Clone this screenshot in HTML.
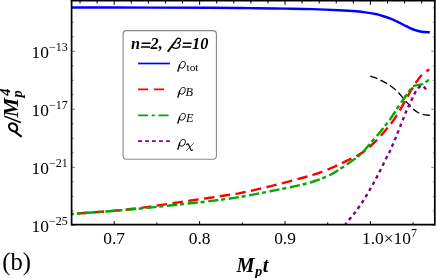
<!DOCTYPE html>
<html><head><meta charset="utf-8"><title>plot</title>
<style>
html,body{margin:0;padding:0;background:#fff;}
body{width:437px;height:278px;overflow:hidden;font-family:"Liberation Serif",serif;}
svg{display:block;will-change:transform;}
text{font-family:"Liberation Serif",serif;fill:#000;}
</style></head><body>
<svg width="437" height="278" viewBox="0 0 437 278">
<rect width="437" height="278" fill="#fff"/>
<clipPath id="cp"><rect x="71.6" y="0.8" width="363.2" height="223.8"/></clipPath>
<g fill="none" stroke-linecap="butt" stroke-linejoin="round" clip-path="url(#cp)">
<path d="M370.30,76.10 C371.38,76.47 375.15,77.65 376.80,78.30 C378.45,78.95 378.48,79.12 380.20,80.00 C381.92,80.88 385.35,82.62 387.10,83.60 C388.85,84.58 389.22,84.80 390.70,85.90 C392.18,87.00 394.62,88.98 396.00,90.20 C397.38,91.42 396.90,90.85 399.00,93.20 C401.10,95.55 405.63,101.20 408.60,104.30 C411.57,107.40 414.28,110.07 416.80,111.80 C419.32,113.53 421.52,114.12 423.70,114.70 C425.88,115.28 428.87,115.20 429.90,115.30" stroke="#000" stroke-width="1.3" stroke-dasharray="7.4 3.6"/>
<path d="M71.60,214.00 C79.95,213.35 108.63,211.33 121.70,210.10 C134.77,208.87 140.28,207.93 150.00,206.60 C159.72,205.27 170.00,203.58 180.00,202.10 C190.00,200.62 200.00,199.20 210.00,197.70 C220.00,196.20 230.00,195.00 240.00,193.10 C250.00,191.20 260.00,188.73 270.00,186.30 C280.00,183.87 292.50,180.52 300.00,178.50 C307.50,176.48 310.00,175.87 315.00,174.20 C320.00,172.53 325.00,170.58 330.00,168.50 C335.00,166.42 340.00,164.10 345.00,161.70 C350.00,159.30 355.27,157.15 360.00,154.10 C364.73,151.05 369.35,147.13 373.40,143.40 C377.45,139.67 381.07,135.40 384.30,131.70 C387.53,128.00 390.12,124.92 392.80,121.20 C395.48,117.48 398.00,113.43 400.40,109.40 C402.80,105.37 405.03,100.78 407.20,97.00 C409.37,93.22 411.80,89.30 413.40,86.70 C415.00,84.10 415.53,83.20 416.80,81.40 C418.07,79.60 418.93,77.92 421.00,75.90 C423.07,73.88 427.83,70.40 429.20,69.30" stroke="#ff0000" stroke-width="2.4" stroke-dasharray="10.5 5.4" stroke-dashoffset="9.8"/>
<path d="M71.60,214.00 C79.95,213.37 108.63,211.27 121.70,210.20 C134.77,209.13 140.28,208.57 150.00,207.60 C159.72,206.63 170.00,205.48 180.00,204.40 C190.00,203.32 200.00,202.33 210.00,201.10 C220.00,199.87 230.00,198.63 240.00,197.00 C250.00,195.37 260.00,193.28 270.00,191.30 C280.00,189.32 292.50,186.82 300.00,185.10 C307.50,183.38 310.00,182.68 315.00,181.00 C320.00,179.32 325.00,177.53 330.00,175.00 C335.00,172.47 340.00,169.17 345.00,165.80 C350.00,162.43 356.18,158.07 360.00,154.80 C363.82,151.53 364.98,149.47 367.90,146.20 C370.82,142.93 374.53,138.75 377.50,135.20 C380.47,131.65 383.62,127.50 385.70,124.90 C387.78,122.30 388.02,122.42 390.00,119.60 C391.98,116.78 395.18,111.65 397.60,108.00 C400.02,104.35 402.55,100.53 404.50,97.70 C406.45,94.87 407.88,92.97 409.30,91.00 C410.72,89.03 412.38,86.75 413.00,85.90 C414.55,85.62 419.65,85.25 422.30,84.20 C424.95,83.15 427.80,80.37 428.90,79.60" stroke="#00aa00" stroke-width="2.4" stroke-dasharray="10.3 2.7 4.1 3.6" stroke-dashoffset="7.7"/>
<path d="M345.40,224.00 C346.87,222.27 351.37,217.27 354.20,213.60 C357.03,209.93 359.67,206.20 362.40,202.00 C365.13,197.80 367.87,193.18 370.60,188.40 C373.33,183.62 376.07,178.57 378.80,173.30 C381.53,168.03 385.13,160.52 387.00,156.80 C388.87,153.08 388.62,154.03 390.00,151.00 C391.38,147.97 393.50,142.95 395.30,138.60 C397.10,134.25 398.93,129.53 400.80,124.90 C402.67,120.27 404.63,115.10 406.50,110.80 C408.37,106.50 410.62,102.03 412.00,99.10 C413.38,96.17 414.00,94.75 414.80,93.20 C415.60,91.65 416.00,90.85 416.80,89.80 C417.60,88.75 418.80,87.62 419.60,86.90 C420.40,86.18 420.97,85.62 421.60,85.50 C422.23,85.38 422.82,85.73 423.40,86.20 C423.98,86.67 424.63,87.77 425.10,88.30 C425.57,88.83 426.02,89.22 426.20,89.40" stroke="#800080" stroke-width="2.4" stroke-dasharray="3.5 3.6" stroke-dashoffset="1.7"/>
<path d="M71.60,7.50 C84.67,7.52 126.93,7.55 150.00,7.60 C173.07,7.65 195.00,7.72 210.00,7.80 C225.00,7.88 232.17,7.98 240.00,8.05 C247.83,8.12 249.50,8.11 257.00,8.20 C264.50,8.29 275.83,8.45 285.00,8.60 C294.17,8.75 303.00,8.83 312.00,9.10 C321.00,9.37 331.67,9.83 339.00,10.20 C346.33,10.57 351.33,10.90 356.00,11.30 C360.67,11.70 363.50,12.10 367.00,12.60 C370.50,13.10 374.83,13.87 377.00,14.30 C379.17,14.73 377.33,14.32 380.00,15.20 C382.67,16.08 388.65,17.78 393.00,19.60 C397.35,21.42 402.40,24.33 406.10,26.10 C409.80,27.87 412.60,29.27 415.20,30.20 C417.80,31.13 419.27,31.35 421.70,31.70 C424.13,32.05 428.45,32.20 429.80,32.30" stroke="#0000ff" stroke-width="2.4"/>
</g>
<g stroke="#000" stroke-width="1"><line x1="80.04" y1="0" x2="80.04" y2="3.50"/><line x1="97.12" y1="0" x2="97.12" y2="3.50"/><line x1="114.20" y1="0" x2="114.20" y2="4.90"/><line x1="131.28" y1="0" x2="131.28" y2="3.50"/><line x1="148.36" y1="0" x2="148.36" y2="3.50"/><line x1="165.44" y1="0" x2="165.44" y2="3.50"/><line x1="182.52" y1="0" x2="182.52" y2="3.50"/><line x1="199.60" y1="0" x2="199.60" y2="4.90"/><line x1="216.68" y1="0" x2="216.68" y2="3.50"/><line x1="233.76" y1="0" x2="233.76" y2="3.50"/><line x1="250.84" y1="0" x2="250.84" y2="3.50"/><line x1="267.92" y1="0" x2="267.92" y2="3.50"/><line x1="285.00" y1="0" x2="285.00" y2="4.90"/><line x1="302.08" y1="0" x2="302.08" y2="3.50"/><line x1="319.16" y1="0" x2="319.16" y2="3.50"/><line x1="336.24" y1="0" x2="336.24" y2="3.50"/><line x1="353.32" y1="0" x2="353.32" y2="3.50"/><line x1="370.40" y1="0" x2="370.40" y2="4.90"/><line x1="387.48" y1="0" x2="387.48" y2="3.50"/><line x1="404.56" y1="0" x2="404.56" y2="3.50"/><line x1="421.64" y1="0" x2="421.64" y2="3.50"/><line x1="114.20" y1="224.6" x2="114.20" y2="221.20"/><line x1="156.90" y1="224.6" x2="156.90" y2="222.40"/><line x1="199.60" y1="224.6" x2="199.60" y2="221.20"/><line x1="242.30" y1="224.6" x2="242.30" y2="222.40"/><line x1="285.00" y1="224.6" x2="285.00" y2="221.20"/><line x1="327.70" y1="224.6" x2="327.70" y2="222.40"/><line x1="370.40" y1="224.6" x2="370.40" y2="221.20"/><line x1="413.10" y1="224.6" x2="413.10" y2="222.40"/></g>
<g stroke="#333" stroke-width="0.6"><line x1="71.6" y1="225.30" x2="75.00" y2="225.30"/><line x1="434.8" y1="225.30" x2="431.40" y2="225.30"/><line x1="71.6" y1="210.80" x2="73.60" y2="210.80"/><line x1="434.8" y1="210.80" x2="432.80" y2="210.80"/><line x1="71.6" y1="196.30" x2="73.60" y2="196.30"/><line x1="434.8" y1="196.30" x2="432.80" y2="196.30"/><line x1="71.6" y1="181.80" x2="73.60" y2="181.80"/><line x1="434.8" y1="181.80" x2="432.80" y2="181.80"/><line x1="71.6" y1="167.30" x2="75.00" y2="167.30"/><line x1="434.8" y1="167.30" x2="431.40" y2="167.30"/><line x1="71.6" y1="152.80" x2="73.60" y2="152.80"/><line x1="434.8" y1="152.80" x2="432.80" y2="152.80"/><line x1="71.6" y1="138.30" x2="73.60" y2="138.30"/><line x1="434.8" y1="138.30" x2="432.80" y2="138.30"/><line x1="71.6" y1="123.80" x2="73.60" y2="123.80"/><line x1="434.8" y1="123.80" x2="432.80" y2="123.80"/><line x1="71.6" y1="109.30" x2="75.00" y2="109.30"/><line x1="434.8" y1="109.30" x2="431.40" y2="109.30"/><line x1="71.6" y1="94.80" x2="73.60" y2="94.80"/><line x1="434.8" y1="94.80" x2="432.80" y2="94.80"/><line x1="71.6" y1="80.30" x2="73.60" y2="80.30"/><line x1="434.8" y1="80.30" x2="432.80" y2="80.30"/><line x1="71.6" y1="65.80" x2="73.60" y2="65.80"/><line x1="434.8" y1="65.80" x2="432.80" y2="65.80"/><line x1="71.6" y1="51.30" x2="75.00" y2="51.30"/><line x1="434.8" y1="51.30" x2="431.40" y2="51.30"/><line x1="71.6" y1="36.80" x2="73.60" y2="36.80"/><line x1="434.8" y1="36.80" x2="432.80" y2="36.80"/><line x1="71.6" y1="22.30" x2="73.60" y2="22.30"/><line x1="434.8" y1="22.30" x2="432.80" y2="22.30"/><line x1="71.6" y1="7.80" x2="73.60" y2="7.80"/><line x1="434.8" y1="7.80" x2="432.80" y2="7.80"/></g>
<path d="M71.6,0 V224.6 H434.8 V0" fill="none" stroke="#000" stroke-width="1.7"/>
<line x1="70.75" y1="0.8" x2="435.65" y2="0.8" stroke="#000" stroke-width="1.6"/>
<text x="31.6" y="57.50" font-size="17.4">10<tspan dy="-6.8" font-size="12">−13</tspan></text><text x="31.6" y="115.50" font-size="17.4">10<tspan dy="-6.8" font-size="12">−17</tspan></text><text x="31.6" y="173.50" font-size="17.4">10<tspan dy="-6.8" font-size="12">−21</tspan></text><text x="31.6" y="231.50" font-size="17.4">10<tspan dy="-6.8" font-size="12">−25</tspan></text>
<text x="114.20" y="243.9" font-size="17.4" text-anchor="middle">0.7</text><text x="199.60" y="243.9" font-size="17.4" text-anchor="middle">0.8</text><text x="285.00" y="243.9" font-size="17.4" text-anchor="middle">0.9</text><text x="362" y="243.9" font-size="17.4">1.0×10<tspan dy="-6.8" font-size="12">7</tspan></text>
<text x="2.2" y="269.6" font-size="24.6">(b)</text>
<g font-weight="bold" font-style="italic">
<text x="236.6" y="271.5" font-size="20.3">M</text><text x="255.1" y="276.1" font-size="14.5">p</text><text x="262.8" y="271.5" font-size="20.3">t</text>
<g transform="translate(17.8,137.5) rotate(-90)">
<path d="M0.6,3.9 L5.6,-2.6 C6.6,-6.6 8.9,-8.9 11.2,-8.9 C13.6,-8.9 14.6,-7.0 14.0,-4.6 C13.3,-2.0 11.3,-0.6 9.2,-0.6 C7.3,-0.6 6.0,-1.6 5.7,-3.2" fill="none" stroke="#000" stroke-width="2.0" stroke-linejoin="round"/>
<path d="M15.0,3.0 L21.4,-13.6" stroke="#000" stroke-width="1.5" fill="none"/>
<text x="20.2" y="0" font-size="21.8">M</text>
<text x="41.8" y="-8" font-size="14.5">4</text>
<text x="40.1" y="4.1" font-size="14.5">p</text>
</g>
</g>
<rect x="123.1" y="30.6" width="93.3" height="128.6" rx="3.5" ry="3.5" fill="#fff" stroke="#878787" stroke-width="1.1"/>
<g font-weight="bold" font-style="italic" font-size="16.3">
<text x="131" y="48.9">n</text><text x="150.6" y="48.9">2,</text><text x="192" y="48.9">10</text>
<path d="M141.7,42.5h9v1.45h-9.2z M141.1,46.3h9v1.45h-9.2z M183.0,42.5h8.7v1.45h-8.9z M182.4,46.3h8.7v1.45h-8.9z" fill="#000"/>
</g>
<g fill="none" stroke-width="1.7">
<line x1="138.1" y1="63.5" x2="169.9" y2="63.5" stroke="#0000ff"/>
<path d="M138.1,89.35 H148.1 M153.8,89.35 H164.1" stroke="#ff0000"/>
<path d="M138.1,115.3 H148.1 M151.7,115.3 H154.8 M158.4,115.3 H168.6" stroke="#00aa00"/>
<path d="M138.1,141.1 H142.1 M145.2,141.1 H149 M152,141.1 H155.8 M159,141.1 H162.8 M166.1,141.1 H169.9" stroke="#800080"/>
</g>
<g transform="translate(177.30,68.35)" fill="none" stroke="#000" stroke-linejoin="round"><path d="M2.4,-3.2 C3.1,-5.6 4.6,-7.0 6.0,-7.0 C7.6,-7.0 8.3,-5.8 8.0,-4.1 C7.6,-1.8 6.1,-0.2 4.4,-0.2 C3.2,-0.2 2.4,-0.9 2.1,-2.0" stroke-width="0.98"/><path d="M0.45,3.3 L2.5,-3.6" stroke-width="1.45"/></g><g transform="translate(177.30,94.35)" fill="none" stroke="#000" stroke-linejoin="round"><path d="M2.4,-3.2 C3.1,-5.6 4.6,-7.0 6.0,-7.0 C7.6,-7.0 8.3,-5.8 8.0,-4.1 C7.6,-1.8 6.1,-0.2 4.4,-0.2 C3.2,-0.2 2.4,-0.9 2.1,-2.0" stroke-width="0.98"/><path d="M0.45,3.3 L2.5,-3.6" stroke-width="1.45"/></g><g transform="translate(177.30,120.35)" fill="none" stroke="#000" stroke-linejoin="round"><path d="M2.4,-3.2 C3.1,-5.6 4.6,-7.0 6.0,-7.0 C7.6,-7.0 8.3,-5.8 8.0,-4.1 C7.6,-1.8 6.1,-0.2 4.4,-0.2 C3.2,-0.2 2.4,-0.9 2.1,-2.0" stroke-width="0.98"/><path d="M0.45,3.3 L2.5,-3.6" stroke-width="1.45"/></g><g transform="translate(177.30,146.35)" fill="none" stroke="#000" stroke-linejoin="round"><path d="M2.4,-3.2 C3.1,-5.6 4.6,-7.0 6.0,-7.0 C7.6,-7.0 8.3,-5.8 8.0,-4.1 C7.6,-1.8 6.1,-0.2 4.4,-0.2 C3.2,-0.2 2.4,-0.9 2.1,-2.0" stroke-width="0.98"/><path d="M0.45,3.3 L2.5,-3.6" stroke-width="1.45"/></g><g transform="translate(186,143.3)" fill="none" stroke="#000" stroke-linecap="round"><path d="M0.7,1.3 C1.3,0.3 2.2,0.2 2.6,1.3 L4.7,6.3 C5.1,7.3 5.8,7.4 6.4,6.6" stroke-width="1.15"/><path d="M7.5,0.1 L0.5,7.3" stroke-width="0.7"/></g><g transform="translate(167.2,48.5)" fill="none" stroke="#000" stroke-linejoin="round"><path d="M0.5,3.3 L8.4,-7.2" stroke-width="1.9"/><path d="M8.0,-6.6 C9.0,-9.0 10.2,-10.3 11.5,-10.3 C13.0,-10.3 13.6,-9.2 13.3,-7.9 C13.0,-6.6 11.8,-5.7 10.2,-5.5 C11.9,-5.2 12.9,-4.2 12.6,-2.8 C12.2,-0.9 10.5,-0.1 8.6,-0.1 C7.0,-0.1 5.6,-0.7 4.6,-1.8" stroke-width="1.25"/></g>
<g font-style="italic" font-size="16">
<text x="186.5" y="70.8" font-size="11.3" font-style="normal">tot</text>
<text x="185.6" y="96.3" font-size="12.3">B</text>
<text x="186.0" y="122.3" font-size="12.3">E</text>

</g>
</svg>
</body></html>
